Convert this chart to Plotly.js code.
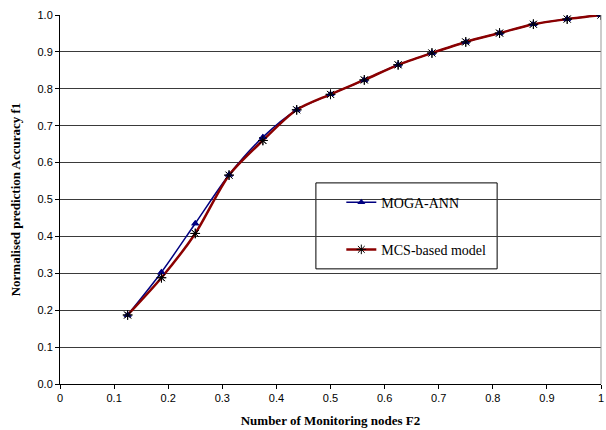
<!DOCTYPE html>
<html>
<head>
<meta charset="utf-8">
<script src="https://cdn.plot.ly/plotly-3.0.1.min.js"></script>
<style>
  html, body { margin: 0; padding: 0; background: #fff; }
  #chart { width: 606px; height: 430px; }
</style>
</head>
<body>
<div id="chart"></div>
<script>
// Fraction of monitoring nodes (F2) and normalised accuracy (f1) for each model
const nodesF2 = [0.125, 0.1875, 0.25, 0.3125, 0.375, 0.4375, 0.5, 0.5625, 0.625, 0.6875, 0.75, 0.8125, 0.875, 0.9375, 1.0];
const mogaAnn = [0.187, 0.303, 0.435, 0.567, 0.669, 0.743, 0.785, 0.824, 0.865, 0.897, 0.927, 0.951, 0.975, 0.989, 1.0];
const mcsModel = [0.187, 0.288, 0.408, 0.566, 0.660, 0.743, 0.785, 0.824, 0.865, 0.897, 0.927, 0.951, 0.975, 0.989, 1.0];

const seriesNames = ['MOGA-ANN', 'MCS-based model'];
const xTitle = 'Number of Monitoring nodes F2';
const yTitle = 'Normalised prediction Accuracy f1';

const navy = '#000080';
const darkRed = '#8b0000';

const traces = [
  {
    x: nodesF2, y: mogaAnn, name: seriesNames[0], legendgroup: 'moga', type: 'scatter', mode: 'lines+markers',
    line: { color: navy, width: 1.5, shape: 'spline', smoothing: 0.8 },
    marker: { symbol: 'triangle-up', size: 7, color: navy }
  },
  {
    x: nodesF2, y: mcsModel, name: seriesNames[1], legendgroup: 'mcs', type: 'scatter', mode: 'lines+markers',
    line: { color: darkRed, width: 2.5, shape: 'spline', smoothing: 0.8 },
    marker: { symbol: 'asterisk-open', size: 8, color: '#000', line: { color: '#111', width: 1 } }
  },
  // marker overlays so both marker sets sit above the lines
  {
    x: nodesF2, y: mogaAnn, type: 'scatter', mode: 'markers', showlegend: false, hoverinfo: 'skip',
    marker: { symbol: 'triangle-up', size: 7, color: navy }
  },
  {
    x: nodesF2, y: mcsModel, type: 'scatter', mode: 'markers', showlegend: false, hoverinfo: 'skip',
    marker: { symbol: 'asterisk-open', size: 8, color: '#000', line: { color: '#111', width: 1 } }
  }
];

const layout = {
  width: 606, height: 430,
  margin: { l: 60, r: 5, t: 15, b: 46 },
  paper_bgcolor: '#fff', plot_bgcolor: '#fff',
  showlegend: true,
  font: { family: 'Liberation Sans, Arial, sans-serif', size: 11, color: '#000' },
  xaxis: {
    range: [0, 1], dtick: 0.1, tick0: 0,
    showgrid: false, zeroline: false,
    showline: true, linecolor: '#000', linewidth: 1,
    ticks: 'outside', ticklen: 4, tickcolor: '#000',
    tickfont: { family: 'Liberation Sans, Arial, sans-serif', size: 11 },
    title: { text: xTitle, standoff: 12,
      font: { family: 'Liberation Serif, Times New Roman, serif', size: 13, weight: 'bold' } }
  },
  yaxis: {
    range: [0, 1], dtick: 0.1, tick0: 0, tickformat: '.1f',
    showgrid: true, gridcolor: '#3a3a3a', gridwidth: 1,
    zeroline: false,
    showline: true, linecolor: '#000', linewidth: 1,
    ticks: 'outside', ticklen: 4, tickcolor: '#000',
    tickfont: { family: 'Liberation Sans, Arial, sans-serif', size: 11 },
    title: { text: yTitle, standoff: 13,
      font: { family: 'Liberation Serif, Times New Roman, serif', size: 13, weight: 'bold' } }
  },
  legend: {
    x: 0.52, y: 0.535, xanchor: 'left', yanchor: 'top',
    bgcolor: 'rgba(0,0,0,0)', borderwidth: 0,
    itemwidth: 30, tracegroupgap: 26, traceorder: 'grouped',
    font: { family: 'Liberation Serif, Times New Roman, serif', size: 14, color: '#000' }
  },
  shapes: [
    // legend frame
    { type: 'rect', xref: 'paper', yref: 'paper', x0: 0.473, x1: 0.808, y0: 0.312, y1: 0.545,
      line: { color: '#000', width: 1 }, fillcolor: '#fff', layer: 'below' },
    // right border of the plot area
    { type: 'line', xref: 'paper', yref: 'paper', x0: 1, x1: 1, y0: 0, y1: 1,
      line: { color: '#999', width: 1 } }
  ]
};

Plotly.newPlot('chart', traces, layout, { displayModeBar: false, staticPlot: true });
</script>
</body>
</html>
